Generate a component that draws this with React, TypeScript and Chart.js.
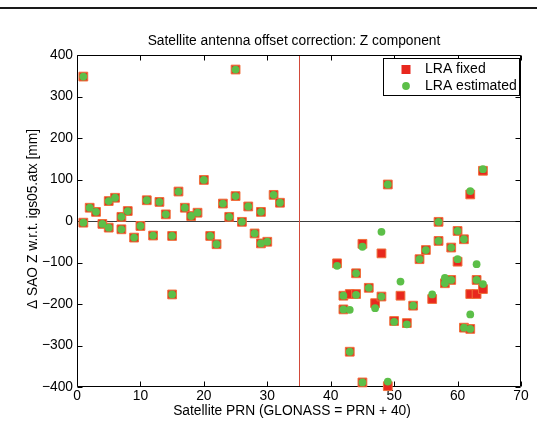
import React, { useEffect, useRef } from "react";
import { Chart, registerables } from "chart.js";

Chart.register(...registerables);

// ---- data ----
const gpsPrn = [1, 1, 2, 3, 4, 5, 5, 6, 7, 7, 8, 9, 10, 11, 12, 13, 14, 15, 15, 16, 17, 18, 19, 20, 21, 22, 23, 24, 25, 25, 26, 27, 28, 29, 29, 30, 31, 32];
const gpsZ = [348, -4, 32, 22, -7, 48, -16, 56, 10, -20, 24, -40, -12, 50, -35, 46, 16, -36, -177, 71, 32, 12, 20, 99, -36, -56, 42, 10, 365, 60, -2, 35, -30, 22, -54, -50, 63, 44];

const glonassFixedPrn = [41, 42, 42, 43, 43, 44, 44, 45, 45, 46, 47, 48, 48, 49, 49, 50, 51, 52, 53, 54, 55, 56, 57, 57, 58, 59, 59, 60, 60, 61, 61, 62, 62, 62, 63, 63, 64, 64];
const glonassFixedZ = [-102, -180, -213, -176, -315, -126, -176, -55, -389, -161, -198, -78, -182, 88, -398, -241, -180, -246, -204, -92, -70, -188, -2, -48, -150, -64, -142, -98, -24, -44, -257, 64, -176, -260, -142, -176, 121, -164];

const glonassEstPrn = [41, 42, 42, 43, 43, 44, 44, 45, 45, 46, 47, 48, 48, 49, 49, 50, 51, 52, 53, 54, 55, 56, 57, 57, 58, 58, 59, 59, 60, 60, 61, 61, 62, 62, 62, 63, 63, 64, 64];
const glonassEstZ = [-108, -180, -213, -214, -315, -126, -178, -62, -389, -161, -210, -26, -182, 88, -387, -243, -146, -249, -204, -92, -70, -177, -2, -48, -137, -150, -64, -142, -92, -24, -44, -257, 72, -225, -260, -104, -142, 125, -152];

const xTicks = [0, 10, 20, 30, 40, 50, 60, 70];
const yTicks = [-400, -300, -200, -100, 0, 100, 200, 300, 400];
const legendLabels = ["LRA fixed", "LRA estimated"];
const titleText = "Satellite antenna offset correction: Z component";
const xTitleText = "Satellite PRN (GLONASS = PRN + 40)";
const yTitleText = "\u0394 SAO Z w.r.t. igs05.atx [mm]";
const glonassBoundary = 35;

// ---- styles ----
const FONT = '"Liberation Sans", Arial, Helvetica, sans-serif';
const RED = "#e8281e";
const RED_EDGE = "#f0703c";
const GREEN = "#5cbf48";

function toPoints(xs: number[], ys: number[]) {
  return xs.map((x, i) => ({ x, y: ys[i] }));
}

function seg(ctx: CanvasRenderingContext2D, x1: number, y1: number, x2: number, y2: number) {
  ctx.moveTo(x1, y1);
  ctx.lineTo(x2, y2);
}

const decorPlugin = {
  id: "decor",
  beforeDatasetsDraw(chart: any) {
    const ctx: CanvasRenderingContext2D = chart.ctx;
    const area = chart.chartArea;
    const xs = chart.scales.x;
    const ys = chart.scales.y;
    const L = Math.round(area.left) + 0.5;
    const R = Math.round(area.right) - 0.5;
    const T = Math.round(area.top) + 0.5;
    const B = Math.round(area.bottom) - 0.5;
    ctx.save();
    ctx.setLineDash([]);
    ctx.lineWidth = 1;

    // zero line
    const y0 = Math.round(ys.getPixelForValue(0)) + 0.5;
    ctx.strokeStyle = "#3c3c3c";
    ctx.beginPath();
    seg(ctx, L, y0, R, y0);
    ctx.stroke();

    // GPS / GLONASS boundary
    const xb = Math.round(xs.getPixelForValue(glonassBoundary)) + 0.5;
    ctx.strokeStyle = "#d24a3a";
    ctx.beginPath();
    seg(ctx, xb, T, xb, B);
    ctx.stroke();

    // frame and inward ticks
    ctx.strokeStyle = "#000000";
    ctx.beginPath();
    seg(ctx, L, T, R, T);
    seg(ctx, R, T, R, B);
    seg(ctx, R, B, L, B);
    seg(ctx, L, B, L, T);
    const tl = 5;
    for (const v of xTicks) {
      const px = Math.round(xs.getPixelForValue(v)) + 0.5;
      seg(ctx, px, B, px, B - tl);
      seg(ctx, px, T, px, T + tl);
    }
    for (const v of yTicks) {
      const py = Math.round(ys.getPixelForValue(v)) + 0.5;
      seg(ctx, L, py, L + tl, py);
      seg(ctx, R, py, R - tl, py);
    }
    ctx.stroke();
    ctx.restore();
  },
  afterDatasetsDraw(chart: any) {
    const ctx: CanvasRenderingContext2D = chart.ctx;
    ctx.save();
    // legend box
    const bx = 383.5, by = 58.5, bw = 136, bh = 37;
    ctx.fillStyle = "#fff";
    ctx.fillRect(bx, by, bw, bh);
    ctx.strokeStyle = "#000";
    ctx.lineWidth = 1;
    ctx.strokeRect(bx, by, bw, bh);
    ctx.fillStyle = RED;
    ctx.fillRect(401.5, 65, 9, 9);
    ctx.fillStyle = GREEN;
    ctx.beginPath();
    ctx.arc(406, 86, 3.9, 0, Math.PI * 2);
    ctx.fill();
    ctx.fillStyle = "#000";
    ctx.font = `14px ${FONT}`;
    ctx.textBaseline = "middle";
    ctx.textAlign = "left";
    ctx.fillText(legendLabels[0], 425, 69.5);
    ctx.fillText(legendLabels[1], 425, 86);
    ctx.restore();
  },
  afterDraw(chart: any) {
    const ctx: CanvasRenderingContext2D = chart.ctx;
    ctx.save();
    ctx.fillStyle = "#000";
    ctx.font = `13.8px ${FONT}`;
    ctx.textAlign = "center";
    ctx.textBaseline = "middle";
    ctx.fillText(titleText, 294, 41);
    ctx.fillText(xTitleText, 292, 411);
    ctx.translate(33, 219);
    ctx.rotate(-Math.PI / 2);
    ctx.fillText(yTitleText, 0, 0);
    ctx.restore();
  },
};

export default function App() {
  const canvasRef = useRef<HTMLCanvasElement | null>(null);

  useEffect(() => {
    document.body.style.margin = "0";
    document.body.style.background = "#fff";
    const canvas = canvasRef.current;
    if (!canvas) return;
    const chart = new Chart(canvas, {
      type: "scatter",
      data: {
        datasets: [
          {
            label: legendLabels[0],
            data: toPoints([...gpsPrn, ...glonassFixedPrn], [...gpsZ, ...glonassFixedZ]),
            pointStyle: "rect",
            pointRadius: 6.2,
            pointHoverRadius: 6.2,
            backgroundColor: RED,
            borderColor: RED_EDGE,
            borderWidth: 1,
            order: 2,
            clip: false,
          },
          {
            label: legendLabels[1],
            data: toPoints([...gpsPrn, ...glonassEstPrn], [...gpsZ, ...glonassEstZ]),
            pointStyle: "circle",
            pointRadius: 3.9,
            pointHoverRadius: 3.9,
            backgroundColor: GREEN,
            borderWidth: 0,
            order: 1,
            clip: false,
          },
        ] as any,
      },
      options: {
        responsive: false,
        animation: false,
        devicePixelRatio: 1,
        events: [],
        layout: { padding: { top: 55, right: 16, bottom: 0, left: 0 } },
        plugins: {
          legend: { display: false },
          tooltip: { enabled: false },
          title: { display: false },
        },
        scales: {
          x: {
            type: "linear",
            min: 0,
            max: 70,
            afterFit: (s: any) => {
              s.height = 56;
            },
            afterBuildTicks: (s: any) => {
              s.ticks = xTicks.map((v) => ({ value: v }));
            },
            grid: { display: false, drawTicks: false },
            border: { display: false },
            ticks: {
              color: "#000",
              padding: 1,
              font: { size: 13.8, family: FONT },
              maxRotation: 0,
              autoSkip: false,
              callback: (v: any) => String(v).replace("-", "\u2212"),
            },
          },
          y: {
            type: "linear",
            min: -400,
            max: 400,
            afterFit: (s: any) => {
              s.width = 77;
            },
            afterBuildTicks: (s: any) => {
              s.ticks = yTicks.map((v) => ({ value: v }));
            },
            grid: { display: false, drawTicks: false },
            border: { display: false },
            ticks: {
              color: "#000",
              padding: 4,
              font: { size: 13.8, family: FONT },
              autoSkip: false,
              callback: (v: any) => String(v).replace("-", "\u2212"),
            },
          },
        },
      } as any,
      plugins: [decorPlugin],
    });
    return () => chart.destroy();
  }, []);

  return (
    <div style={{ position: "relative", width: 537, height: 443, background: "#fff" }}>
      <div style={{ position: "absolute", left: 0, top: 7, width: 537, height: 2, background: "#1a1a1a" }} />
      <canvas ref={canvasRef} width={537} height={443} style={{ display: "block", width: 537, height: 443 }} />
    </div>
  );
}
